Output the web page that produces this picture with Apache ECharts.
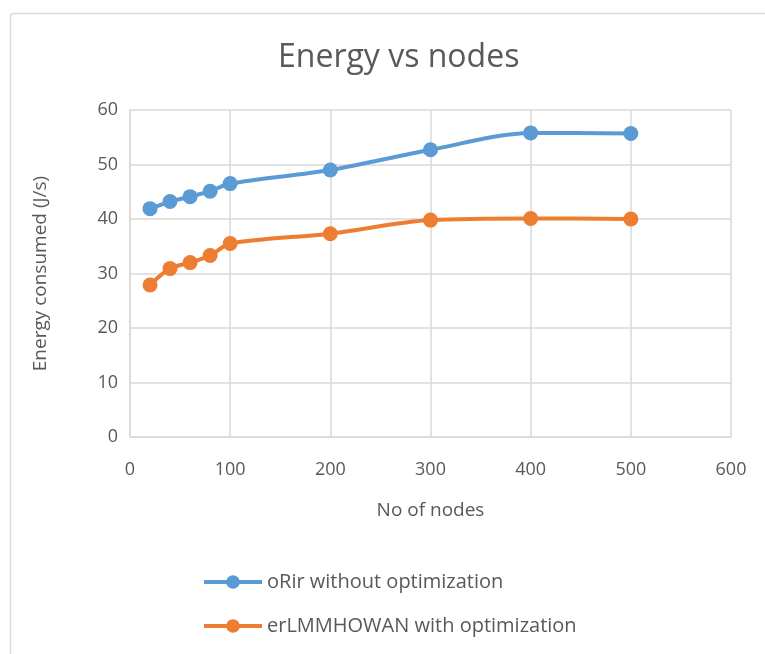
<!DOCTYPE html>
<html>
<head>
<meta charset="utf-8">
<script src="https://cdn.jsdelivr.net/npm/echarts@6/dist/echarts.min.js"></script>
<style>
  html, body { margin: 0; padding: 0; background: #fff; }
  #chart { width: 765px; height: 654px; }
</style>
</head>
<body>
<div id="chart"></div>
<script>
// node counts on the x axis
const nodes = [20, 40, 60, 80, 100, 200, 300, 400, 500];
// energy consumed (J/s)
const withoutOpt = [41.9, 43.2, 44.1, 45.1, 46.5, 49.0, 52.7, 55.8, 55.7];
const withOpt = [27.9, 30.9, 32.0, 33.3, 35.5, 37.3, 39.8, 40.1, 40.0];
const seriesNames = ['oRir without optimization', 'erLMMHOWAN with optimization'];

const textColor = '#595959';
const gridColor = '#d9d9d9';
const font = 'Open Sans';

const chart = echarts.init(document.getElementById('chart'));

const toPairs = (vals) => nodes.map((n, i) => [n, vals[i]]);

const option = {
    backgroundColor: '#fff',
    color: ['#5b9bd5', '#ed7d31'],
    graphic: [{
        type: 'rect',
        left: 8, top: 11,
        shape: { width: 800, height: 700, r: 3 },
        style: { fill: 'none', stroke: gridColor, lineWidth: 1.5 },
        silent: true
    }],
    title: {
        text: 'Energy vs nodes',
        left: 273,
        top: 37,
        textStyle: { color: textColor, fontFamily: font, fontWeight: 'normal', fontSize: 32 }
    },
    legend: {
        orient: 'vertical',
        left: 197,
        top: 567,
        itemWidth: 58,
        itemHeight: 17,
        itemGap: 24,
        lineStyle: { width: 4 },
        data: seriesNames,
        textStyle: { color: textColor, fontFamily: font, fontSize: 20 }
    },
    grid: { left: 130, right: 34, top: 110, bottom: 217 },
    xAxis: {
        type: 'value',
        min: 0, max: 600, interval: 100,
        name: 'No of nodes',
        nameLocation: 'middle',
        nameGap: 64,
        nameTextStyle: { color: textColor, fontFamily: font, fontSize: 19 },
        axisLine: { show: true, lineStyle: { color: gridColor, width: 1.5 } },
        axisTick: { show: false },
        axisLabel: { color: textColor, fontFamily: font, fontSize: 18, margin: 24 },
        splitLine: { show: true, lineStyle: { color: gridColor, width: 1.5 } }
    },
    yAxis: {
        type: 'value',
        min: 0, max: 60, interval: 10,
        name: 'Energy consumed (J/s)',
        nameLocation: 'middle',
        nameGap: 80,
        nameTextStyle: { color: textColor, fontFamily: font, fontSize: 19 },
        axisLine: { show: true, lineStyle: { color: gridColor, width: 1.5 } },
        axisTick: { show: false },
        axisLabel: { color: textColor, fontFamily: font, fontSize: 18, margin: 12 },
        splitLine: { show: true, lineStyle: { color: gridColor, width: 1.5 } }
    },
    series: [
        {
            name: seriesNames[0],
            type: 'line',
            smooth: 0.3,
            symbol: 'circle',
            symbolSize: 15,
            lineStyle: { width: 4 },
            data: toPairs(withoutOpt)
        },
        {
            name: seriesNames[1],
            type: 'line',
            smooth: 0.3,
            symbol: 'circle',
            symbolSize: 15,
            lineStyle: { width: 4 },
            data: toPairs(withOpt)
        }
    ]
};

chart.setOption(option);
</script>
</body>
</html>
